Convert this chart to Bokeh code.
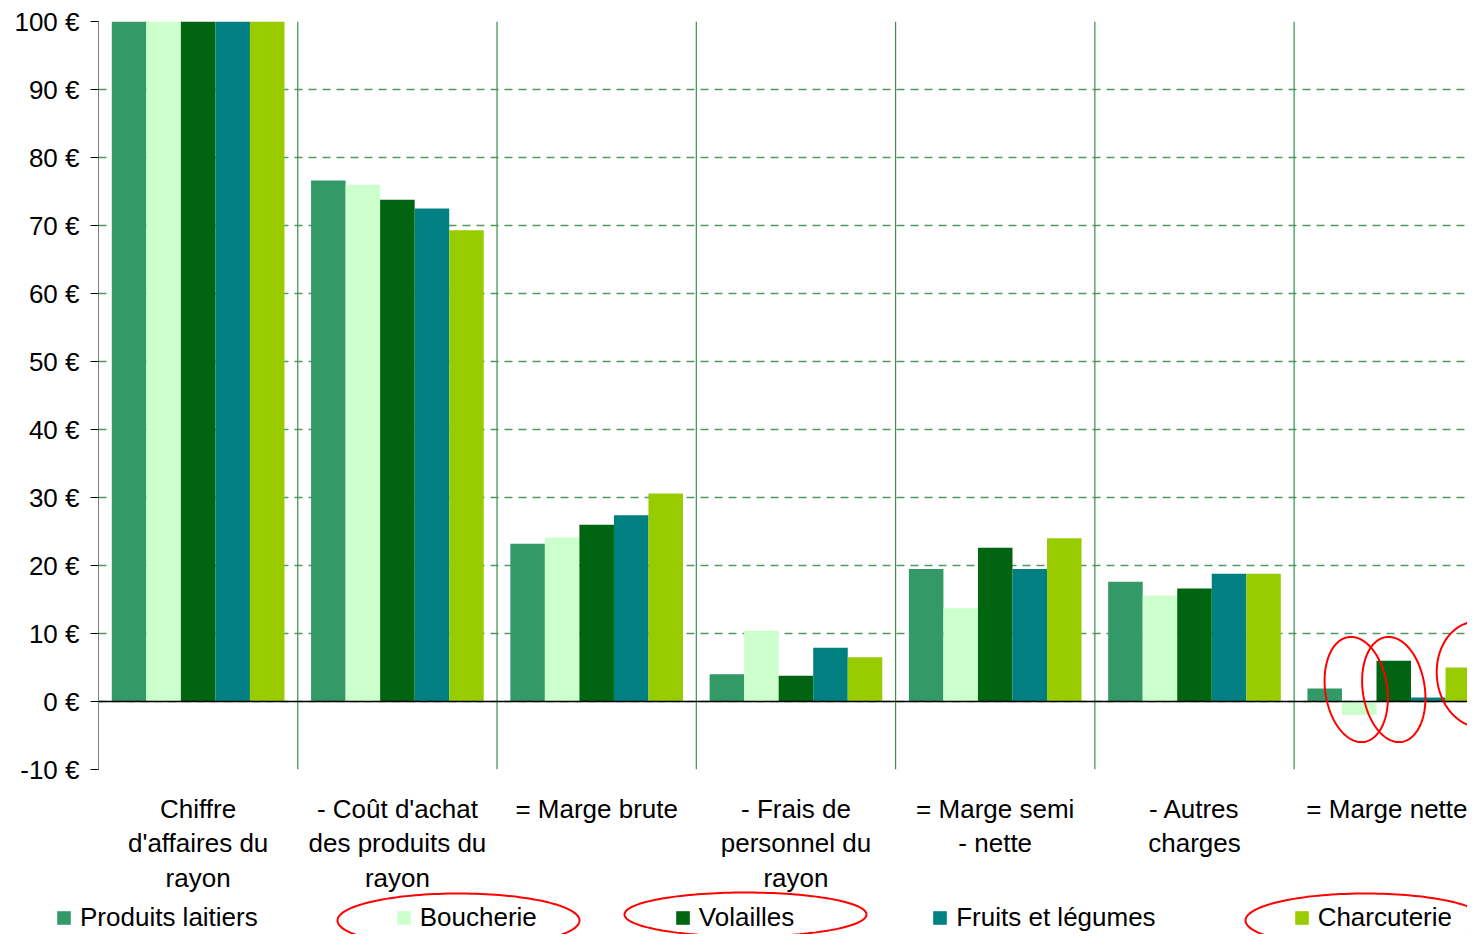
import numpy as np
from bokeh.plotting import figure
from bokeh.layouts import column
from bokeh.models import Range1d, Span, Legend, LegendItem, FixedTicker, PolyAnnotation, ColumnDataSource
from bokeh.embed import file_html
from bokeh.resources import INLINE

# ---- data ----
categories = ["Chiffre\nd'affaires du\nrayon",
              "- Coût d'achat\ndes produits du\nrayon",
              "= Marge brute",
              "- Frais de\npersonnel du\nrayon",
              "= Marge semi\n- nette",
              "- Autres\ncharges",
              "= Marge nette"]
series_names = ["Produits laitiers", "Boucherie", "Volailles", "Fruits et légumes", "Charcuterie"]
series_colors = ["#339966", "#CCFFCC", "#006411", "#008080", "#99CC00"]
produits_laitiers = [100, 76.6, 23.2, 4.0, 19.5, 17.6, 1.9]
boucherie = [100, 76.0, 24.1, 10.4, 13.7, 15.6, -2.0]
volailles = [100, 73.8, 26.0, 3.8, 22.6, 16.6, 6.0]
fruits_legumes = [100, 72.5, 27.4, 7.9, 19.5, 18.8, 0.6]
charcuterie = [100, 69.3, 30.6, 6.5, 24.0, 18.8, 5.0]
y_ticks = list(range(-10, 101, 10))

all_series = [produits_laitiers, boucherie, volailles, fruits_legumes, charcuterie]

FONT = "Liberation Sans"
FS = "26px"

X_END = 6.87
W = 1467
H1 = 896
MB_L, MB_R, MB_T, MB_B = 98, 0, 21, 127
frame_w = W - MB_L - MB_R
frame_h = H1 - MB_T - MB_B
gpx = frame_w / X_END

p = figure(width=W, height=H1, x_range=Range1d(0, X_END), y_range=Range1d(-10, 100),
           output_backend="svg", toolbar_location=None,
           min_border_left=MB_L, min_border_right=MB_R, min_border_top=MB_T, min_border_bottom=MB_B)
p.outline_line_color = None
p.background_fill_color = "white"
p.border_fill_color = "white"
p.frame_align = False

bw = 0.1733
for i, (name, vals, col) in enumerate(zip(series_names, all_series, series_colors)):
    xs = [g + 0.5 + (i - 2) * bw for g in range(len(categories))]
    src = ColumnDataSource(dict(x=xs, top=vals))
    p.vbar(x="x", top="top", bottom=0, width=bw, source=src, fill_color=col, line_color=None)

# grid
p.xgrid.visible = False
p.ygrid.ticker = FixedTicker(ticks=y_ticks)
p.ygrid.grid_line_color = "#4F9A60"
p.ygrid.grid_line_dash = "8 6"
p.ygrid.grid_line_width = 1.3
p.ygrid.level = "underlay"

for g in range(1, len(categories)):
    p.add_layout(Span(location=g, dimension="height", line_color="#3C8F4C", line_width=1.2, level="underlay"))
p.add_layout(Span(location=0, dimension="width", line_color="black", line_width=1.3))

# y axis
ya = p.yaxis[0]
ya.ticker = FixedTicker(ticks=y_ticks)
ya.major_label_overrides = {t: f"{t} €" for t in y_ticks}
ya.axis_line_color = "#808080"
ya.major_tick_line_color = "black"
ya.major_tick_out = 8
ya.major_tick_in = 0
ya.minor_tick_line_color = None
ya.major_label_standoff = 11
ya.major_label_text_font = FONT
ya.major_label_text_font_size = FS
ya.major_label_text_color = "black"

# x axis
xa = p.xaxis[0]
xa.ticker = FixedTicker(ticks=[g + 0.5 for g in range(len(categories))])
xa.major_label_overrides = {g + 0.5: c for g, c in enumerate(categories)}
xa.axis_line_color = None
xa.major_tick_line_color = None
xa.minor_tick_line_color = None
xa.major_label_standoff = 18
xa.major_label_text_font = FONT
xa.major_label_text_font_size = FS
xa.major_label_text_line_height = 1.15
xa.major_label_text_color = "black"


def ellipse(cx, cy, rx, ry, ang, n=160):
    t = np.linspace(0, 2 * np.pi, n)
    x = rx * np.cos(t)
    y = ry * np.sin(t)
    c, s = np.cos(ang), np.sin(ang)
    return list(cx + x * c - y * s), list(cy + x * s + y * c)


# red hand-drawn ellipses around the last group's bars (frame pixels, y up)
last = len(categories) - 1
bar_ellipses = [
    ((last + 0.5 + (1 - 2) * bw) * gpx - 3, 80, 31, 53, 0.15),
    ((last + 0.5 + (2 - 2) * bw) * gpx, 80, 31, 53, 0.15),
    ((last + 0.5 + (4 - 2) * bw) * gpx + 16, 95, 42, 53, 0.1),
]
for cx, cy, rx, ry, ang in bar_ellipses:
    ex, ey = ellipse(cx, cy, rx, ry, ang)
    p.add_layout(PolyAnnotation(xs=ex, ys=ey, xs_units="screen", ys_units="screen",
                                fill_alpha=0, line_color="#FF0000", line_alpha=1, line_width=2))

# ---- legend strip (transparent, overlapping the bottom of the chart) ----
H2 = 78
TOP2 = H1 - 40
p2 = figure(width=W, height=H2, x_range=Range1d(0, W), y_range=Range1d(TOP2 + H2, TOP2),
            output_backend="svg", toolbar_location=None, x_axis_type=None, y_axis_type=None,
            min_border_left=0, min_border_right=0, min_border_top=0, min_border_bottom=0,
            margin=(-40, 0, 0, 0))
p2.frame_align = False
p2.outline_line_color = None
p2.background_fill_alpha = 0
p2.border_fill_alpha = 0
p2.xgrid.visible = False
p2.ygrid.visible = False

# legend swatch proxies (degenerate, zero-size glyphs)
swatches = [p2.vbar(x=[10], top=[TOP2 + 10], bottom=TOP2 + 10, width=0, fill_color=c, line_color=None)
            for c in series_colors]
items = [LegendItem(label=n, renderers=[r]) for n, r in zip(series_names, swatches)]
legend = Legend(items=items, orientation="horizontal", location=(55, 1),
                glyph_width=17, glyph_height=17, label_standoff=8, spacing=137,
                padding=0, margin=0, border_line_color=None, background_fill_alpha=0,
                label_text_font=FONT, label_text_font_size=FS, label_text_color="black")
p2.add_layout(legend, "center")

legend_ellipses = [(458, 920, 121, 27, 0.0), (745, 914, 121, 22, 0.0), (1365, 920, 120, 27, 0.0)]
for cx, cy, rx, ry, ang in legend_ellipses:
    ex, ey = ellipse(cx, cy, rx, ry, ang)
    p2.add_layout(PolyAnnotation(xs=ex, ys=ey, fill_alpha=0, line_color="#FF0000",
                                 line_alpha=1, line_width=2))

layout = column(p, p2, spacing=0)
open("out.html", "w").write(file_html(layout, INLINE))
